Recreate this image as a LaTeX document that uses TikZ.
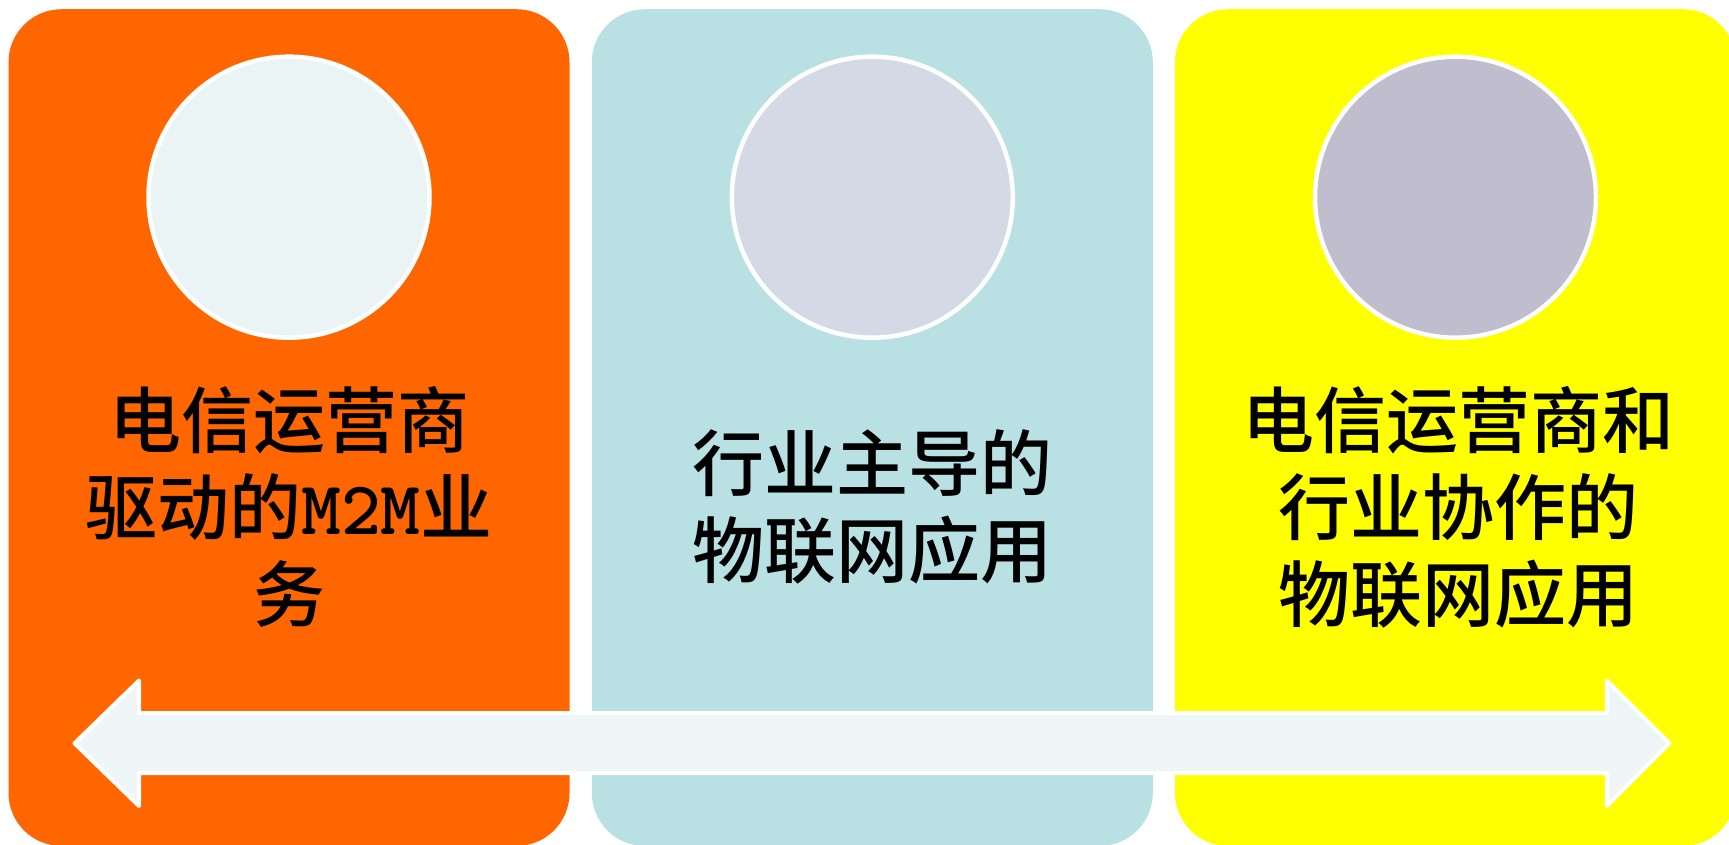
\documentclass[tikz,border=0pt]{standalone}
\usepackage{fontspec}
\newfontfamily\cjk{Noto Sans CJK SC Medium}
\definecolor{cOrange}{HTML}{FF6600}
\definecolor{cTeal}{HTML}{B9E0E3}
\definecolor{cYellow}{HTML}{FFFF00}
\definecolor{cCircA}{HTML}{EAF4F5}
\definecolor{cCircB}{HTML}{D3DAE5}
\definecolor{cCircC}{HTML}{BFBDCE}
\definecolor{cArrow}{HTML}{EEF6F8}
\tikzset{
  panel/.style={rectangle, rounded corners=53pt, minimum width=561pt, minimum height=836.7pt, inner sep=0pt, draw=none},
  disc/.style={circle, minimum size=281pt, inner sep=0pt, draw=white, line width=4.5pt},
  label/.style={align=center, inner sep=0pt, font=\cjk\fontsize{72}{87}\selectfont, text=black},
  bigarrow/.style={fill=cArrow, draw=white, line width=4pt, line join=round}
}
\begin{document}
\begin{tikzpicture}[x=1pt,y=-1pt]
\useasboundingbox (0,0) rectangle (1729,845);
\clip (0,0) rectangle (1729,845);
\fill[white] (0,0) rectangle (1729,845);
% panels
\node[panel, fill=cOrange] (p1) at (289,427.6) {};
\node[panel, fill=cTeal] (p2) at (872.3,427.6) {};
\node[panel, fill=cYellow] (p3) at (1455.5,427.6) {};
% circles
\node[disc, fill=cCircA] (c1) at (289,197.2) {};
\node[disc, fill=cCircB] (c2) at (872.3,197.2) {};
\node[disc, fill=cCircC] (c3) at (1455.5,197.2) {};
% texts
\node[label] (t1) at (289,507) {电信运营商\\驱动的{\ttfamily\bfseries\fontsize{76}{87}\selectfont M2M}业\\务};
\node[label] (t2) at (872.3,507) {行业主导的\\物联网应用};
\node[label] (t3) at (1458,507) {电信运营商和\\行业协作的\\物联网应用};
% double arrow
\coordinate (aL) at (74.5,743.3);
\coordinate (aR) at (1669.5,743.3);
\draw[bigarrow] (aL) -- (139,680.5) -- (139,713) -- (1606.8,713) -- (1606.8,680.5)
  -- (aR) -- (1606.8,806) -- (1606.8,773) -- (139,773) -- (139,806) -- cycle;
\end{tikzpicture}
\end{document}
